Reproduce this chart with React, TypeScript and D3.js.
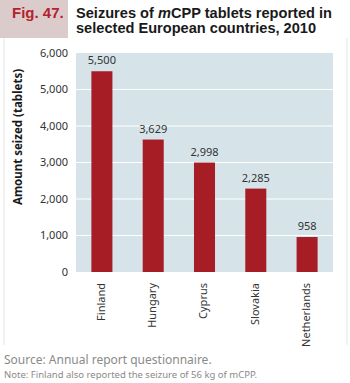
import React from "react";
import * as d3 from "d3";

const countries = ["Finland", "Hungary", "Cyprus", "Slovakia", "Netherlands"];
const seized = [5500, 3629, 2998, 2285, 958];
const yTicks = [0, 1000, 2000, 3000, 4000, 5000, 6000];

const App = () => {
  const svgRef = React.useRef<SVGSVGElement>(null);

  React.useEffect(() => {
    document.body.style.margin = "0";
    const svg = d3.select(svgRef.current);
    svg.selectAll("*").remove();

    const width = 350;
    const height = 383;
    const plot = { left: 76, right: 333, top: 53, bottom: 272 };

    svg
      .append("rect")
      .attr("x", 0)
      .attr("y", 0)
      .attr("width", width)
      .attr("height", height)
      .attr("fill", "white");
    // faint frame lines
    svg
      .append("path")
      .attr("d", `M4,38V345M347,38V345`)
      .attr("stroke", "#e6e6e6")
      .attr("stroke-width", 1)
      .attr("fill", "none");

    // header
    svg
      .append("rect")
      .attr("x", 0)
      .attr("y", 0)
      .attr("width", 68)
      .attr("height", 38)
      .attr("fill", "#dccbcb");
    svg
      .append("text")
      .attr("x", 12)
      .attr("y", 18)
      .attr("font-family", "Liberation Sans, Arial, sans-serif")
      .attr("font-weight", "bold")
      .attr("font-size", 15)
      .attr("fill", "#b3232f")
      .text("Fig. 47.");

    const line1 = svg
      .append("text")
      .attr("x", 76)
      .attr("y", 18)
      .attr("font-family", "Liberation Sans, Arial, sans-serif")
      .attr("font-weight", "bold")
      .attr("font-size", 14.6)
      .attr("fill", "#1a1a1a");
    line1.append("tspan").text("Seizures of ");
    line1.append("tspan").attr("font-style", "italic").text("m");
    line1.append("tspan").text("CPP tablets reported in");
    svg
      .append("text")
      .attr("x", 76)
      .attr("y", 33)
      .attr("font-family", "Liberation Sans, Arial, sans-serif")
      .attr("font-weight", "bold")
      .attr("font-size", 14.6)
      .attr("fill", "#1a1a1a")
      .text("selected European countries, 2010");

    const x = d3
      .scaleBand()
      .domain(countries)
      .range([plot.left, plot.right])
      .paddingInner(0.59)
      .paddingOuter(0.3);
    const y = d3.scaleLinear().domain([0, 6000]).range([plot.bottom, plot.top]);

    svg
      .append("rect")
      .attr("x", plot.left)
      .attr("y", plot.top)
      .attr("width", plot.right - plot.left)
      .attr("height", plot.bottom - plot.top)
      .attr("fill", "#d6e4e9");

    svg
      .append("g")
      .selectAll("line")
      .data(yTicks.filter((t) => t > 0 && t < 6000))
      .join("line")
      .attr("x1", plot.left)
      .attr("x2", plot.right)
      .attr("y1", (d) => y(d))
      .attr("y2", (d) => y(d))
      .attr("stroke", "white")
      .attr("stroke-width", 1.2);

    svg
      .append("g")
      .attr("font-family", "Noto Sans, sans-serif")
      .attr("font-size", 11)
      .attr("fill", "#333")
      .attr("text-anchor", "end")
      .selectAll("text")
      .data(yTicks)
      .join("text")
      .attr("x", 68)
      .attr("y", (d) => y(d))
      .attr("dy", "0.35em")
      .text((d) => d3.format(",")(d));

    svg
      .append("text")
      .attr("transform", `translate(22,137) rotate(-90)`)
      .attr("text-anchor", "middle")
      .attr("font-family", "Noto Sans, sans-serif")
      .attr("font-weight", "bold")
      .attr("font-size", 11.5)
      .attr("fill", "#1a1a1a")
      .text("Amount seized (tablets)");

    const bars = countries.map((c, i) => ({ country: c, value: seized[i] }));

    svg
      .append("g")
      .selectAll("rect")
      .data(bars)
      .join("rect")
      .attr("x", (d) => x(d.country)!)
      .attr("width", x.bandwidth())
      .attr("y", (d) => y(d.value))
      .attr("height", (d) => y(0) - y(d.value))
      .attr("fill", "#a61d26");

    svg
      .append("g")
      .attr("font-family", "Noto Sans, sans-serif")
      .attr("font-size", 11)
      .attr("fill", "#333")
      .attr("text-anchor", "middle")
      .selectAll("text")
      .data(bars)
      .join("text")
      .attr("x", (d) => x(d.country)! + x.bandwidth() / 2)
      .attr("y", (d) => y(d.value) - 7)
      .text((d) => d3.format(",")(d.value));

    svg
      .append("g")
      .attr("font-family", "Noto Sans, sans-serif")
      .attr("font-size", 11)
      .attr("fill", "#333")
      .attr("text-anchor", "end")
      .selectAll("text")
      .data(countries)
      .join("text")
      .attr(
        "transform",
        (d) => `translate(${x(d)! + x.bandwidth() / 2 - 1},283) rotate(-90)`
      )
      .attr("dy", "0.35em")
      .text((d) => d);

    svg
      .append("text")
      .attr("x", 4)
      .attr("y", 364)
      .attr("font-family", "Noto Sans, sans-serif")
      .attr("font-size", 12)
      .attr("fill", "#8a8a8a")
      .text("Source: Annual report questionnaire.");
    svg
      .append("text")
      .attr("x", 4)
      .attr("y", 378)
      .attr("font-family", "Noto Sans, sans-serif")
      .attr("font-size", 9.5)
      .attr("fill", "#8a8a8a")
      .text("Note: Finland also reported the seizure of 56 kg of mCPP.");
  }, []);

  return (
    <svg
      ref={svgRef}
      width={350}
      height={383}
      style={{ display: "block", position: "absolute", left: 0, top: 0 }}
    />
  );
};

export default App;
